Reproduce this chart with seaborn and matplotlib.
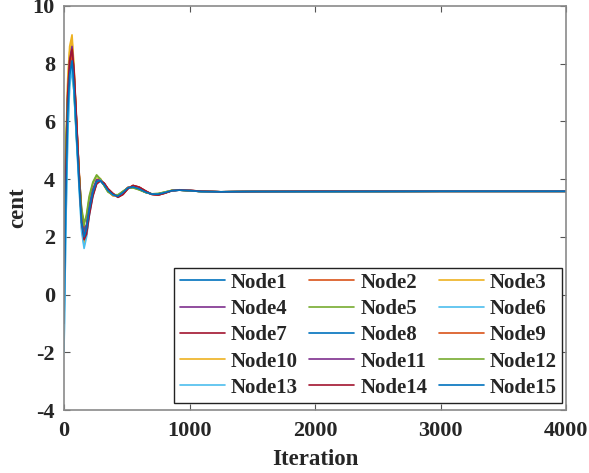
import numpy as np
import pandas as pd
import matplotlib
matplotlib.use("Agg")
import matplotlib.pyplot as plt
import seaborn as sns

# Iteration sample positions
iters = [0, 15, 30, 45, 64, 80, 100, 120, 140, 160, 180, 200, 230, 260, 290, 320, 350, 390,
         430, 470, 510, 550, 600, 650, 700, 750, 800, 860, 920, 1000, 1100, 1250, 1500, 2000, 3000, 4000]

node1 = [1.2, 4.6, 6.8, 7.8, 8.2, 7.3, 5.6, 4.0, 2.7, 2.1, 2.4, 3.0, 3.6, 3.95, 3.95, 3.8, 3.6, 3.45, 3.42, 3.55, 3.7, 3.72, 3.65, 3.55, 3.48, 3.48, 3.53, 3.6, 3.62, 3.6, 3.57, 3.56, 3.57, 3.57, 3.58, 3.58]
node2 = [0.5, 4.0, 6.4, 7.6, 8.0, 7.4, 5.9, 4.3, 2.9, 2.3, 2.4, 2.9, 3.5, 3.9, 3.98, 3.85, 3.65, 3.48, 3.4, 3.5, 3.68, 3.76, 3.7, 3.58, 3.48, 3.46, 3.52, 3.6, 3.63, 3.61, 3.57, 3.56, 3.57, 3.57, 3.58, 3.58]
node3 = [1.8, 5.2, 7.5, 8.6, 9.0, 7.9, 5.9, 4.1, 2.6, 1.9, 2.2, 2.9, 3.6, 4.0, 4.02, 3.82, 3.58, 3.42, 3.4, 3.56, 3.71, 3.72, 3.64, 3.54, 3.48, 3.49, 3.54, 3.61, 3.62, 3.6, 3.57, 3.56, 3.57, 3.57, 3.58, 3.58]
node4 = [0.3, 4.3, 7.0, 8.2, 8.6, 7.6, 5.8, 4.1, 2.6, 2.0, 2.3, 2.9, 3.55, 3.92, 3.96, 3.8, 3.6, 3.44, 3.4, 3.54, 3.71, 3.74, 3.66, 3.55, 3.48, 3.48, 3.53, 3.6, 3.62, 3.6, 3.57, 3.56, 3.57, 3.57, 3.58, 3.58]
node5 = [2.0, 5.0, 6.8, 7.6, 7.9, 7.0, 5.4, 4.2, 3.0, 2.5, 2.7, 3.3, 3.85, 4.12, 4.0, 3.78, 3.56, 3.45, 3.45, 3.58, 3.7, 3.7, 3.63, 3.54, 3.49, 3.5, 3.55, 3.61, 3.62, 3.6, 3.57, 3.56, 3.57, 3.57, 3.58, 3.58]
node6 = [-1.9, 2.4, 5.5, 7.2, 7.8, 7.0, 5.4, 3.8, 2.3, 1.7, 2.1, 2.8, 3.5, 3.9, 3.97, 3.84, 3.63, 3.46, 3.4, 3.52, 3.69, 3.74, 3.67, 3.56, 3.48, 3.47, 3.53, 3.6, 3.63, 3.61, 3.57, 3.56, 3.57, 3.57, 3.58, 3.58]
node7 = [0.1, 4.2, 6.9, 8.1, 8.5, 7.7, 6.0, 4.2, 2.6, 1.9, 2.2, 2.8, 3.45, 3.85, 3.95, 3.86, 3.66, 3.5, 3.38, 3.48, 3.68, 3.78, 3.72, 3.59, 3.48, 3.45, 3.51, 3.6, 3.63, 3.61, 3.58, 3.56, 3.57, 3.58, 3.58, 3.58]
node8 = [1.0, 4.5, 6.7, 7.7, 8.1, 7.3, 5.7, 4.1, 2.8, 2.2, 2.4, 3.0, 3.6, 3.93, 3.94, 3.8, 3.6, 3.46, 3.42, 3.55, 3.7, 3.72, 3.65, 3.55, 3.48, 3.48, 3.53, 3.6, 3.62, 3.6, 3.57, 3.56, 3.57, 3.57, 3.58, 3.58]
node9 = [1.5, 4.8, 6.9, 7.9, 8.3, 7.6, 6.0, 4.3, 2.8, 2.1, 2.3, 2.9, 3.5, 3.88, 3.96, 3.86, 3.67, 3.5, 3.38, 3.47, 3.67, 3.78, 3.72, 3.59, 3.47, 3.45, 3.51, 3.6, 3.63, 3.61, 3.58, 3.56, 3.57, 3.58, 3.58, 3.58]
node10 = [0.8, 4.6, 7.3, 8.4, 8.8, 7.8, 5.9, 4.2, 2.5, 1.8, 2.1, 2.8, 3.55, 3.97, 3.98, 3.8, 3.58, 3.43, 3.41, 3.56, 3.72, 3.73, 3.65, 3.55, 3.48, 3.48, 3.54, 3.61, 3.62, 3.6, 3.57, 3.56, 3.57, 3.57, 3.58, 3.58]
node11 = [-0.5, 3.7, 6.8, 8.1, 8.6, 7.6, 5.7, 4.0, 2.6, 2.0, 2.4, 3.0, 3.65, 3.98, 3.97, 3.8, 3.6, 3.45, 3.41, 3.55, 3.71, 3.74, 3.66, 3.55, 3.48, 3.48, 3.53, 3.6, 3.62, 3.6, 3.57, 3.56, 3.57, 3.57, 3.58, 3.58]
node12 = [2.3, 5.2, 6.9, 7.6, 7.9, 7.1, 5.5, 4.2, 2.9, 2.4, 2.8, 3.4, 3.9, 4.15, 4.0, 3.77, 3.56, 3.46, 3.46, 3.58, 3.69, 3.7, 3.63, 3.54, 3.49, 3.5, 3.55, 3.61, 3.62, 3.6, 3.57, 3.56, 3.57, 3.57, 3.58, 3.58]
node13 = [-2.0, 2.5, 5.6, 7.3, 7.9, 7.0, 5.3, 3.7, 2.2, 1.6, 2.0, 2.7, 3.45, 3.88, 3.96, 3.84, 3.63, 3.46, 3.39, 3.52, 3.69, 3.74, 3.67, 3.56, 3.48, 3.47, 3.53, 3.6, 3.63, 3.61, 3.57, 3.56, 3.57, 3.57, 3.58, 3.58]
node14 = [0.2, 4.3, 7.0, 8.1, 8.5, 7.8, 6.1, 4.2, 2.5, 1.9, 2.1, 2.7, 3.4, 3.83, 3.94, 3.86, 3.67, 3.5, 3.37, 3.47, 3.67, 3.78, 3.72, 3.59, 3.47, 3.45, 3.51, 3.6, 3.63, 3.61, 3.58, 3.56, 3.57, 3.58, 3.58, 3.58]
node15 = [-1.0, 3.4, 6.3, 7.6, 8.1, 7.2, 5.5, 3.9, 2.5, 2.0, 2.3, 2.9, 3.55, 3.92, 3.95, 3.8, 3.61, 3.46, 3.41, 3.54, 3.7, 3.73, 3.66, 3.55, 3.48, 3.48, 3.53, 3.6, 3.62, 3.6, 3.57, 3.56, 3.57, 3.57, 3.58, 3.58]

node_names = ["Node%d" % i for i in range(1, 16)]
node_values = [node1, node2, node3, node4, node5, node6, node7, node8, node9,
               node10, node11, node12, node13, node14, node15]

x_ticks = [0, 1000, 2000, 3000, 4000]
y_ticks = [-4, -2, 0, 2, 4, 6, 8, 10]

matlab_colors = ["#0072BD", "#D95319", "#EDB120", "#7E2F8E", "#77AC30", "#4DBEEE", "#A2142F"]
palette = [matlab_colors[i % 7] for i in range(15)]

rows = []
for name, vals in zip(node_names, node_values):
    for it, v in zip(iters, vals):
        rows.append({"Iteration": it, "cent": v, "node": name})
df = pd.DataFrame(rows)

sns.set_style("ticks")
plt.rcParams["font.family"] = ["Liberation Serif", "DejaVu Serif"]
plt.rcParams["font.weight"] = "bold"
plt.rcParams["axes.unicode_minus"] = False

fig = plt.figure(figsize=(5.89, 4.73), dpi=100)
ax = fig.add_axes([64 / 589, (473 - 410) / 473, (566 - 64) / 589, (410 - 6) / 473])

sns.lineplot(data=df, x="Iteration", y="cent", hue="node", hue_order=node_names,
             palette=palette, estimator=None, linewidth=1.2, ax=ax, legend=False)

ax.set_xlim(0, 4000)
ax.set_ylim(-4, 10)
ax.set_xticks(x_ticks)
ax.set_yticks(y_ticks)
ax.set_xlabel("Iteration", fontsize=16.5, fontweight="bold", labelpad=6)
ax.set_ylabel("cent", fontsize=16.5, fontweight="bold", labelpad=3)
ax.tick_params(direction="in", length=4, width=0.8, color="#555555",
               top=True, right=True, labelsize=16)
ax.tick_params(axis="x", pad=8)
ax.tick_params(axis="y", pad=6.5)
for lab in ax.get_xticklabels() + ax.get_yticklabels():
    lab.set_fontweight("bold")
for sp in ax.spines.values():
    sp.set_color("#8a8a8a")
    sp.set_linewidth(1.2)

# Legend: row-major order like the reference (3 columns, 5 rows)
lines = ax.get_lines()
handles = {name: ln for name, ln in zip(node_names, lines)}
order = [node_names[3 * r + c] for c in range(3) for r in range(5)]
leg = ax.legend([handles[n] for n in order], order, ncol=3,
                loc="lower right", bbox_to_anchor=(562 / 589, (473 - 403) / 473),
                bbox_transform=fig.transFigure, borderaxespad=0,
                fancybox=False, frameon=True, edgecolor="#222222",
                prop={"family": ["Liberation Serif"], "weight": "bold", "size": 15},
                handlelength=2.16, handletextpad=0.29, columnspacing=0.55,
                labelspacing=0.3, borderpad=0.25)
leg.get_frame().set_linewidth(1.0)
leg.get_frame().set_alpha(1)

fig.savefig("out.png", dpi=100)
